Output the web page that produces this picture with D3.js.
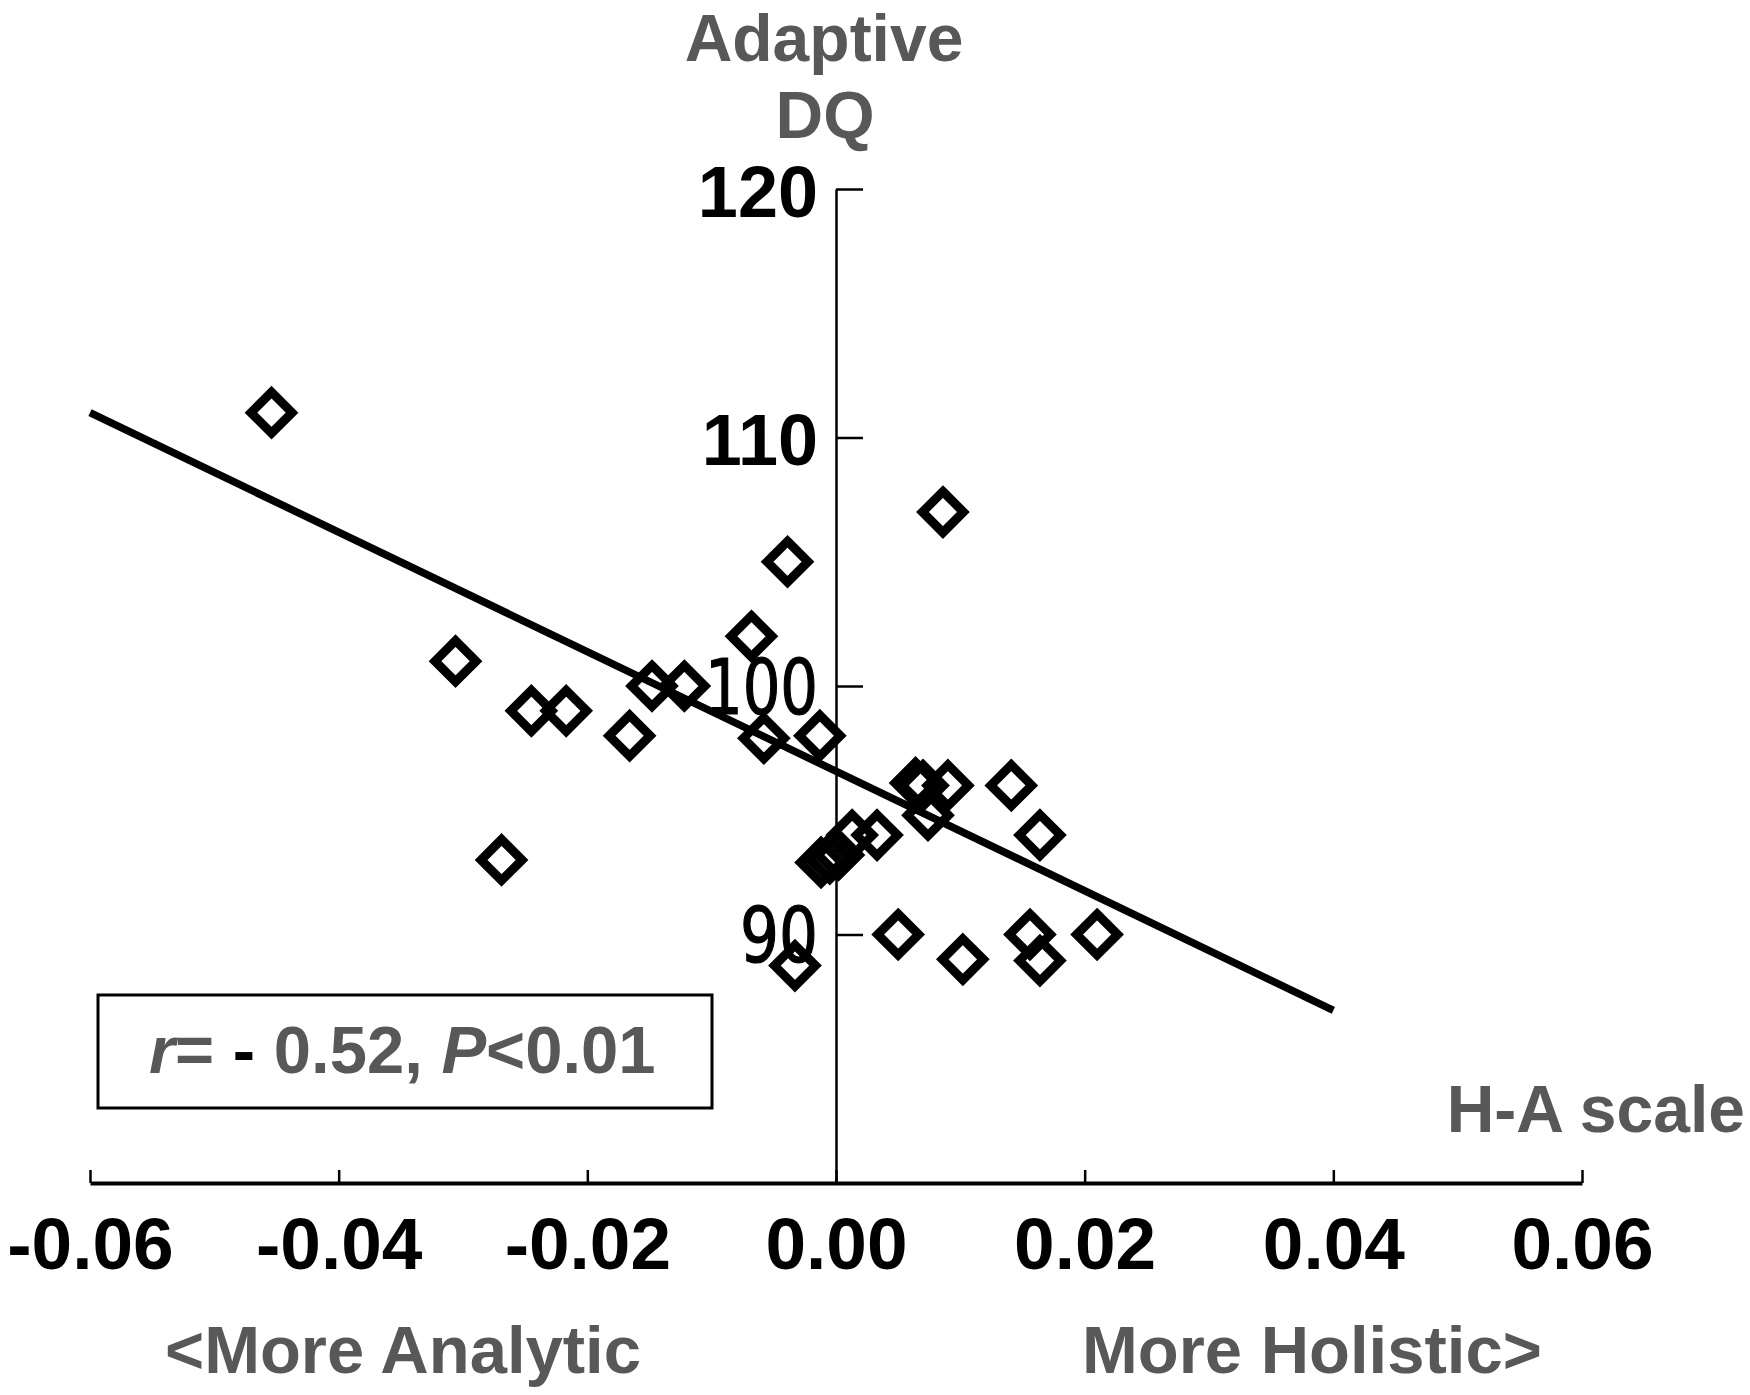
<!DOCTYPE html>
<html>
<head>
<meta charset="utf-8">
<script src="https://cdn.jsdelivr.net/npm/d3@7"></script>
<style>
  html, body { margin: 0; padding: 0; background: #fff; }
  svg { display: block; }
  text { font-family: "Liberation Sans", Arial, Helvetica, sans-serif; }
</style>
</head>
<body>
<svg id="chart" width="1750" height="1395"></svg>
<script>
// ---- data ----
const haScale = [-0.0454, 0.0086, -0.0039, -0.0068, -0.0306, -0.0148, -0.0122,
  -0.0245, -0.0217, -0.0166, -0.0058, -0.0013, 0.0064, 0.0070, 0.0090, 0.0141,
  0.0074, 0.0013, 0.0033, 0.0164, -0.0012, -0.0005, 0.0002, -0.0269,
  0.0050, 0.0156, 0.0210, 0.0102, 0.0164, -0.0033];
const adaptiveDQ = [111.0, 107.0, 105.0, 102.0, 101.0, 100.0, 100.0,
  99.0, 99.0, 98.0, 97.9, 98.0, 96.1, 96.0, 96.0, 96.0,
  94.8, 94.0, 94.0, 94.0, 92.9, 93.05, 93.2, 93.0,
  90.0, 90.0, 90.0, 89.0, 88.95, 88.75];
const fitX = [-0.06, 0.04];
const fitY = [111.0, 86.95];
const xTickValues = [-0.06, -0.04, -0.02, 0.00, 0.02, 0.04, 0.06];
const xTickLabels = ["-0.06", "-0.04", "-0.02", "0.00", "0.02", "0.04", "0.06"];
const yTickValues = [90, 100, 110, 120];
const yTickLabels = ["90", "100", "110", "120"];
const yTitle = ["Adaptive", "DQ"];
const xTitle = "H-A scale";
const leftNote = "<More Analytic";
const rightNote = "More Holistic>";
const statParts = [
  {t: "r", italic: true, dark: false},
  {t: "= ", italic: false, dark: false},
  {t: "-", italic: false, dark: true},
  {t: " 0.52, ", italic: false, dark: false},
  {t: "P", italic: true, dark: false},
  {t: "<0.01", italic: false, dark: false}
];

// ---- layout ----
const GRAY = "#585858";
const svg = d3.select("#chart");
const x = d3.scaleLinear().domain([-0.06, 0.06]).range([90, 1582]);
const y = d3.scaleLinear().domain([80, 120]).range([1183, 189]);

// x axis
const xAxis = d3.axisBottom(x)
  .tickValues(xTickValues)
  .tickFormat((d, i) => xTickLabels[i])
  .tickSizeInner(-13)
  .tickSizeOuter(0);
const gx = svg.append("g").attr("transform", `translate(0,${y(80)})`).call(xAxis);
gx.select(".domain").attr("stroke", "#000").attr("stroke-width", 4);
gx.selectAll(".tick line").attr("stroke", "#000").attr("stroke-width", 2.5);
gx.selectAll(".tick text")
  .attr("y", 86).attr("dy", null)
  .attr("fill", "#000")
  .attr("font-size", 73).attr("font-weight", "bold");

// y axis at x = 0
const yAxis = d3.axisLeft(y)
  .tickValues(yTickValues)
  .tickFormat((d, i) => yTickLabels[i])
  .tickSizeInner(-27)
  .tickSizeOuter(0);
const gy = svg.append("g").attr("transform", `translate(${x(0)},0)`).call(yAxis);
gy.select(".domain").attr("stroke", "#000").attr("stroke-width", 2.5);
gy.selectAll(".tick line").attr("stroke", "#000").attr("stroke-width", 2.5);
gy.selectAll(".tick text")
  .attr("x", -18).attr("dy", null).attr("y", 27)
  .attr("fill", "#000")
  .attr("text-anchor", "end")
  .each(function(d) {
    const t = d3.select(this);
    if (d >= 110) {
      t.attr("font-size", 72).attr("font-weight", "bold");
    } else {
      t.attr("font-size", 76).attr("font-weight", "normal")
       .style("font-family", "'Liberation Sans Narrow', 'Arial Narrow', 'DejaVu Sans Condensed', sans-serif")
       .attr("stroke", "#000").attr("stroke-width", 1.2)
       .attr("textLength", d === 100 ? 113 : 78)
       .attr("lengthAdjust", "spacingAndGlyphs");
    }
  });

// regression line
svg.append("path")
  .datum(fitX.map((v, i) => [v, fitY[i]]))
  .attr("d", d3.line().x(d => x(d[0])).y(d => y(d[1])))
  .attr("fill", "none")
  .attr("stroke", "#000")
  .attr("stroke-width", 7.5);

// diamonds (open markers)
const pts = haScale.map((v, i) => ({x: v, y: adaptiveDQ[i]}));
svg.append("g").selectAll("path")
  .data(pts)
  .join("path")
  .attr("d", "M0,-20.5L20.5,0L0,20.5L-20.5,0Z")
  .attr("transform", d => `translate(${x(d.x)},${y(d.y)})`)
  .attr("fill", "none")
  .attr("stroke", "#000")
  .attr("stroke-width", 9)
  .attr("stroke-linejoin", "miter");

// y title
svg.append("text").attr("x", 824).attr("y", 61)
  .attr("text-anchor", "middle").attr("font-size", 66).attr("font-weight", "bold")
  .attr("fill", GRAY).text(yTitle[0]);
svg.append("text").attr("x", 825).attr("y", 138)
  .attr("text-anchor", "middle").attr("font-size", 66).attr("font-weight", "bold")
  .attr("fill", GRAY).text(yTitle[1]);

// x title
svg.append("text").attr("x", 1745).attr("y", 1132)
  .attr("text-anchor", "end").attr("font-size", 66).attr("font-weight", "bold")
  .attr("fill", GRAY).text(xTitle);

// direction notes
svg.append("text").attr("x", 165).attr("y", 1373)
  .attr("font-size", 67).attr("font-weight", "bold")
  .attr("fill", GRAY).text(leftNote);
svg.append("text").attr("x", 1082).attr("y", 1373)
  .attr("font-size", 67).attr("font-weight", "bold")
  .attr("fill", GRAY).text(rightNote);

// stats box
svg.append("rect").attr("x", 98).attr("y", 995).attr("width", 614).attr("height", 113)
  .attr("fill", "none").attr("stroke", "#000").attr("stroke-width", 3);
const st = svg.append("text").attr("x", 149).attr("y", 1073)
  .attr("font-size", 67).attr("font-weight", "bold")
  .attr("xml:space", "preserve").style("white-space", "pre");
st.selectAll("tspan").data(statParts).join("tspan")
  .attr("font-style", d => d.italic ? "italic" : "normal")
  .attr("fill", d => d.dark ? "#000" : GRAY)
  .text(d => d.t);
</script>
</body>
</html>
